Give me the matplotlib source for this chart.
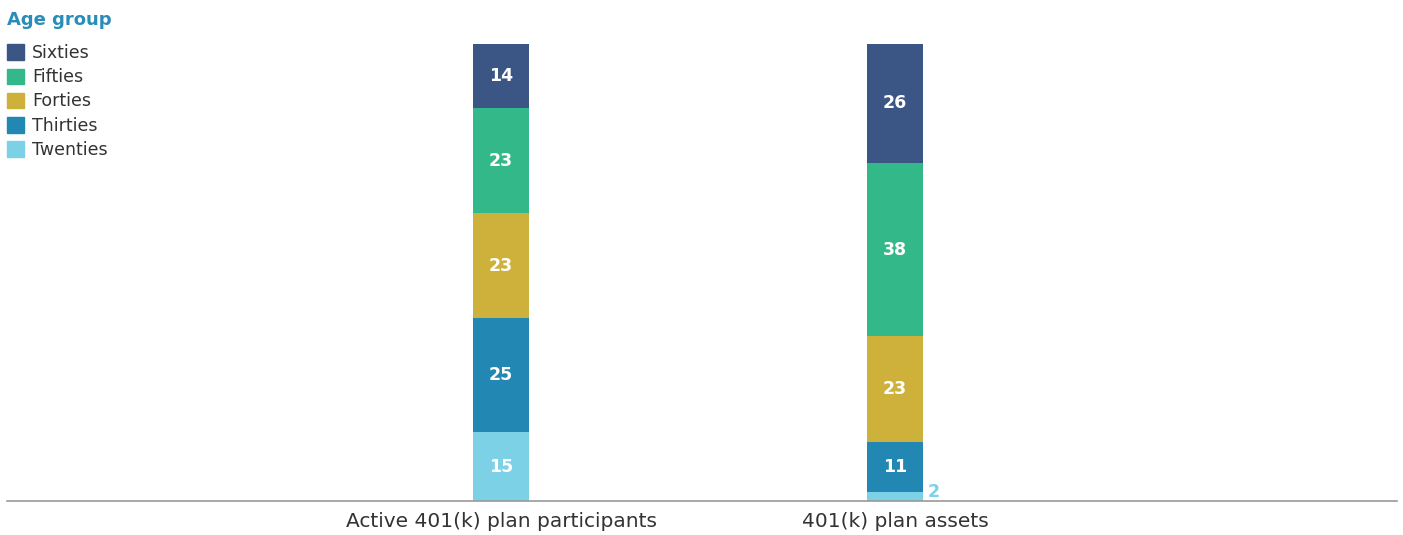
import numpy as np
import matplotlib.pyplot as plt
from matplotlib.patches import Patch

# data
categories = ["Active 401(k) plan participants", "401(k) plan assets"]
groups = ["Twenties", "Thirties", "Forties", "Fifties", "Sixties"]
twenties = [15, 2]
thirties = [25, 11]
forties = [23, 23]
fifties = [23, 38]
sixties = [14, 26]
colors = ["#7DD1E6", "#2287B2", "#CDB13A", "#33B88A", "#3B5584"]

plt.rcParams['font.family'] = ['DejaVu Sans']
fig = plt.figure(figsize=(14.03, 5.35), dpi=100)
ax = fig.add_axes([7/1403, 1-501/535, 1390/1403, 457/535])

x = np.arange(len(categories))
width = 0.142
bottom = np.zeros(len(categories))
for name, vals, c in zip(groups, [twenties, thirties, forties, fifties, sixties], colors):
    vals = np.array(vals)
    ax.bar(x, vals, width, bottom=bottom, color=c, label=name)
    for xi, v, b in zip(x, vals, bottom):
        if v >= 5:
            ax.text(xi, b + v/2, str(v), ha='center', va='center', color='white',
                    fontsize=12.5, fontweight='bold')
        else:
            ax.text(xi + width/2 + 0.012, b + v/2 + 1.0, str(v), ha='left', va='center',
                    color=c, fontsize=12.5, fontweight='bold')
    bottom += vals

ax.set_xlim(-494/394, (1390-494)/394)
ax.set_ylim(0, 100)
ax.set_xticks(x)
ax.set_xticklabels(categories, fontsize=14.5, color='#333333')
ax.tick_params(axis='x', length=0, pad=8)
ax.set_yticks([])
for s in ['top', 'right', 'left']:
    ax.spines[s].set_visible(False)
ax.spines['bottom'].set_color('#999999')
ax.spines['bottom'].set_linewidth(1.2)

fig.text(7/1403, 1-20/535, "Age group", color='#2A8CB8', fontsize=13, fontweight='bold',
         ha='left', va='center')
handles = [Patch(color=c, label=g) for g, c in zip(groups[::-1], colors[::-1])]
leg = fig.legend(handles=handles, loc='upper left', bbox_to_anchor=(7/1403, 1-44/535),
                 frameon=False, fontsize=12.5, handlelength=1.0, handleheight=1.0,
                 handletextpad=0.45, labelspacing=0.36, borderaxespad=0, borderpad=0)
for t in leg.get_texts():
    t.set_color('#333333')

fig.savefig("out.png", dpi=100)
